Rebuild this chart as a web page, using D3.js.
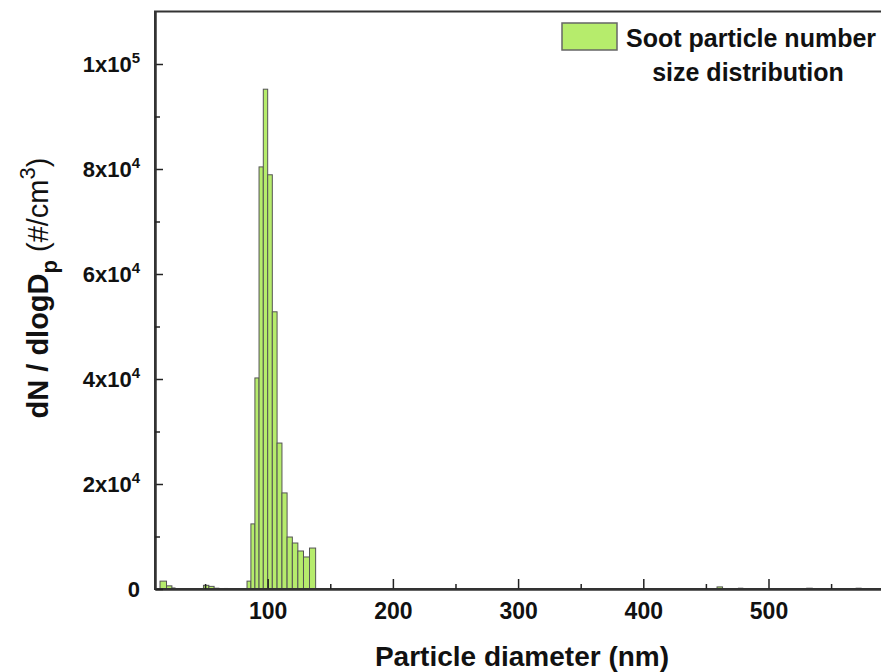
<!DOCTYPE html>
<html>
<head>
<meta charset="utf-8">
<script src="https://cdn.jsdelivr.net/npm/d3@7"></script>
<style>
  body { margin: 0; background: #fff; }
  svg { font-family: "Liberation Sans", Arial, sans-serif; }
</style>
</head>
<body>
<div id="chart"></div>
<script>
// bin edges (nm) and dN/dlogDp (#/cm3)
const binLo = [14.0, 19.2, 23.5, 48.7, 53.0, 57.2, 65.5,
    83.5, 86.6, 89.8, 93.1, 96.5, 100.0, 103.7, 107.5, 111.4, 115.5, 119.7, 124.1, 128.6, 133.4,
    458.9, 476.0, 530.5, 570.0];
const binHi = [19.2, 23.5, 26.0, 53.0, 57.2, 61.0, 68.0,
    86.6, 89.8, 93.1, 96.5, 100.0, 103.7, 107.5, 111.4, 115.5, 119.7, 124.1, 128.6, 133.4, 138.3,
    463.3, 479.5, 535.0, 574.0];
const conc = [1500, 600, 200, 700, 500, 150, 100,
    1500, 12400, 40200, 80400, 95200, 78900, 52800, 27800, 18300, 9900, 8760, 7240, 6100, 7800,
    400, 150, 150, 150];

const xMajor = [100, 200, 300, 400, 500];
const xMinor = [50, 150, 250, 350, 450, 550];
const yMajor = [0, 20000, 40000, 60000, 80000, 100000];
const yMinor = [10000, 30000, 50000, 70000, 90000];
const legendLines = ["Soot particle number", "size distribution"];

const W = 881, H = 672;
const svg = d3.select("#chart").append("svg")
    .attr("width", W)
    .attr("height", H);

svg.append("rect").attr("width", W).attr("height", H).attr("fill", "#fff");

let x = d3.scaleLinear().domain([10, 600]).range([155, 893.7]);
let y = d3.scaleLinear().domain([0, 110000]).range([589, 11.5]);

let bins = binLo.map((lo, i) => ({lo: lo, hi: binHi[i], v: conc[i]}));

// bars
svg.selectAll(".bar")
    .data(bins)
    .enter()
    .append("rect")
    .attr("class", "bar")
    .attr("x", d => x(d.lo))
    .attr("width", d => x(d.hi) - x(d.lo))
    .attr("y", d => y(d.v))
    .attr("height", d => y(0) - y(d.v))
    .attr("fill", "#b6ec6c")
    .attr("stroke", "#555")
    .attr("stroke-width", 1);

// frame (right side runs past the picture edge)
svg.append("rect")
    .attr("x", x.range()[0])
    .attr("y", y.range()[1])
    .attr("width", x.range()[1] - x.range()[0])
    .attr("height", y.range()[0] - y.range()[1])
    .attr("fill", "none")
    .attr("stroke", "#333")
    .attr("stroke-width", 2);

// x axis
let xAxis = svg.append("g")
    .attr("transform", `translate(0, ${y(0)})`)
    .call(d3.axisBottom(x).tickValues(xMajor).tickSize(-10).tickSizeOuter(0).tickPadding(14));
svg.append("g")
    .attr("transform", `translate(0, ${y(0)})`)
    .call(d3.axisBottom(x).tickValues(xMinor).tickSize(-5).tickSizeOuter(0).tickFormat(""));

// y axis
let yAxis = svg.append("g")
    .attr("transform", `translate(${x(10)}, 0)`)
    .call(d3.axisLeft(y).tickValues(yMajor).tickSize(-8).tickSizeOuter(0).tickPadding(15));
svg.append("g")
    .attr("transform", `translate(${x(10)}, 0)`)
    .call(d3.axisLeft(y).tickValues(yMinor).tickSize(-5).tickSizeOuter(0).tickFormat(""));

svg.selectAll(".domain").attr("stroke", "#333").attr("stroke-width", 2);
svg.selectAll(".tick line").attr("stroke", "#222").attr("stroke-width", 1.5);

xAxis.selectAll(".tick text")
    .attr("font-size", 23)
    .attr("font-weight", "bold")
    .attr("fill", "#111")
    .style("font-family", "Liberation Sans, Arial, sans-serif");

// y tick labels as a x 10^b
yAxis.selectAll(".tick text").each(function (d) {
    let t = d3.select(this)
        .text(null)
        .attr("font-size", 22)
        .attr("font-weight", "bold")
        .attr("fill", "#111")
        .style("font-family", "Liberation Sans, Arial, sans-serif");
    if (d === 0) {
        t.text("0");
        return;
    }
    let e = Math.floor(Math.log10(d));
    let m = Math.round(d / Math.pow(10, e));
    t.append("tspan").text(m + "x10");
    t.append("tspan").attr("font-size", 15).attr("dy", "-0.55em").text(e);
});

// x title
svg.append("text")
    .attr("x", 522)
    .attr("y", 666)
    .attr("text-anchor", "middle")
    .attr("font-size", 28)
    .attr("font-weight", "bold")
    .attr("fill", "#111")
    .text("Particle diameter (nm)");

// y title
let ytext = svg.append("text")
    .attr("transform", "translate(48, 288) rotate(-90)")
    .attr("text-anchor", "middle")
    .attr("font-size", 29)
    .attr("font-weight", "bold")
    .attr("fill", "#111");
ytext.append("tspan").text("dN / dlogD");
ytext.append("tspan").attr("font-size", 22).attr("dy", 9).text("p");
ytext.append("tspan").attr("dy", -9).attr("font-weight", "normal").text(" (#/cm");
ytext.append("tspan").attr("font-size", 22).attr("dy", -13).attr("font-weight", "normal").text("3");
ytext.append("tspan").attr("dy", 13).attr("font-weight", "normal").text(")");

// legend
svg.append("rect")
    .attr("x", 562)
    .attr("y", 23)
    .attr("width", 55)
    .attr("height", 27)
    .attr("fill", "#b6ec6c")
    .attr("stroke", "#666")
    .attr("stroke-width", 1.5);
svg.append("text")
    .attr("x", 626)
    .attr("y", 47)
    .attr("font-size", 25)
    .attr("font-weight", "bold")
    .attr("fill", "#111")
    .text(legendLines[0]);
svg.append("text")
    .attr("x", 748)
    .attr("y", 81)
    .attr("text-anchor", "middle")
    .attr("font-size", 25)
    .attr("font-weight", "bold")
    .attr("fill", "#111")
    .text(legendLines[1]);
</script>
</body>
</html>
